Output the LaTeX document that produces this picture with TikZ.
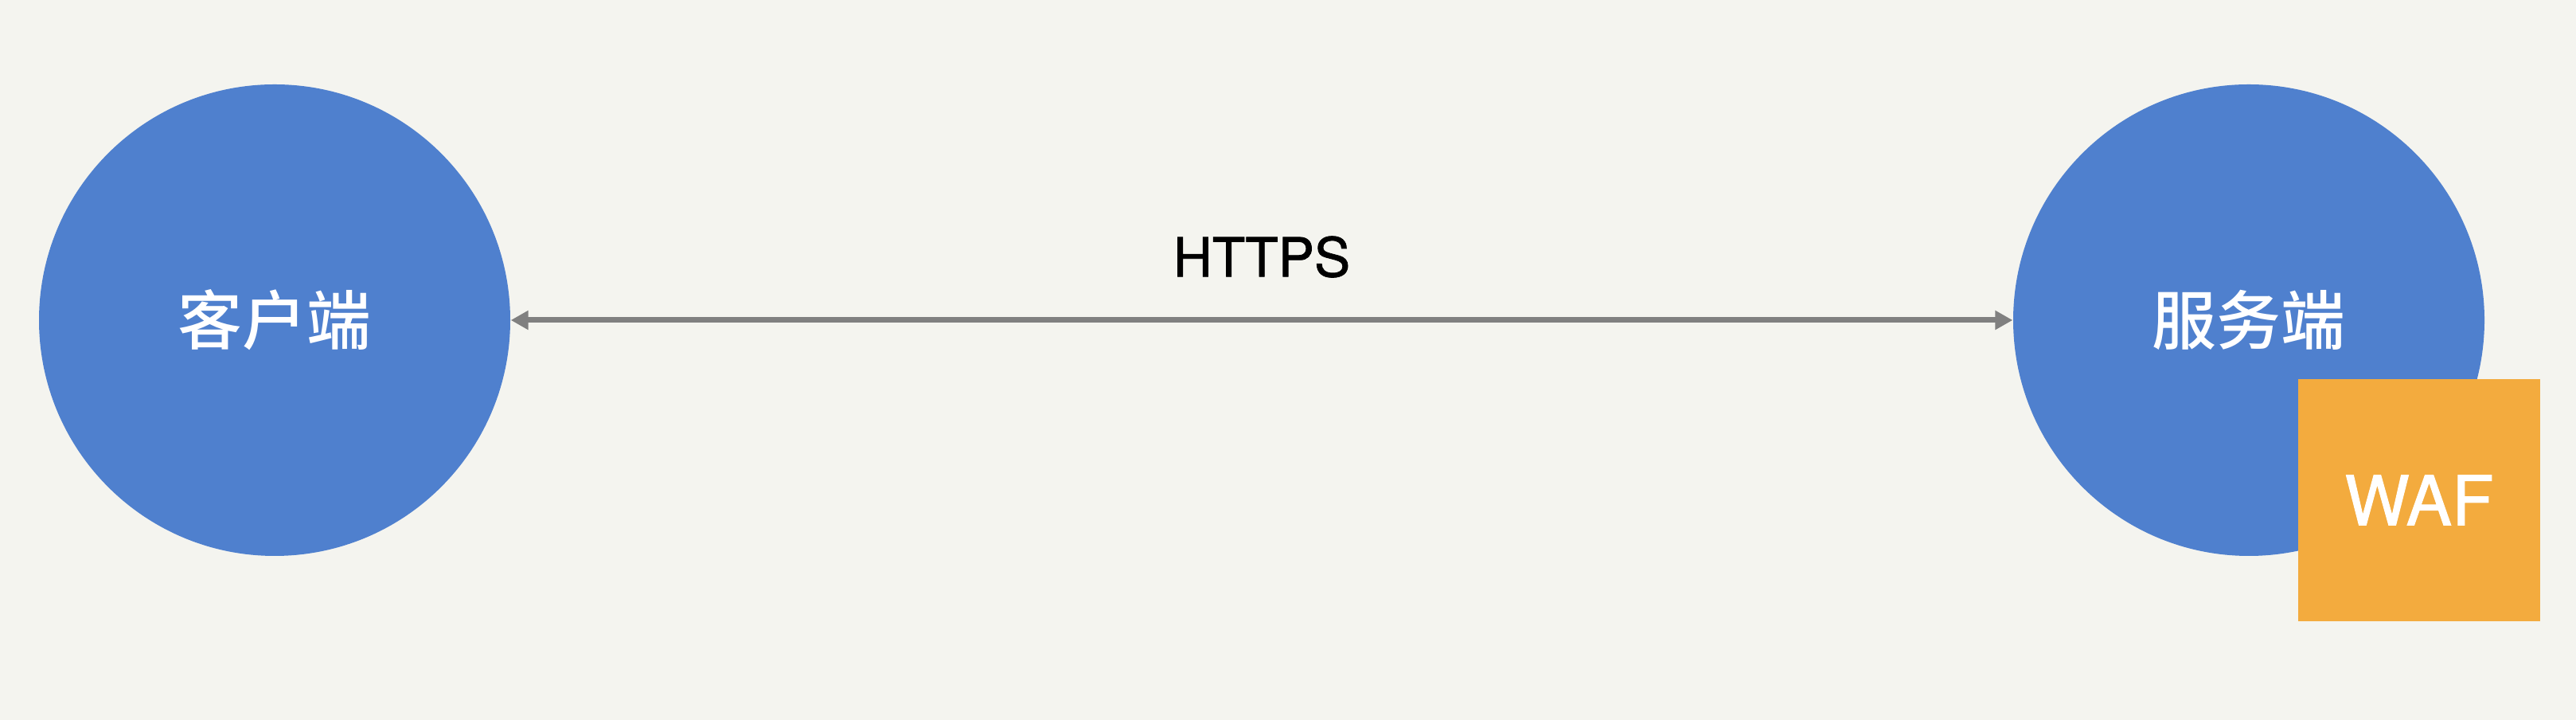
\documentclass[tikz,border=0pt]{standalone}
\usepackage{fontspec}
\setmainfont{TeX Gyre Heros}
\newfontfamily\latinmid{TeX Gyre Heros}[FakeBold=1.2]
\newfontfamily\cjk{Noto Sans CJK SC Medium}
\usetikzlibrary{arrows.meta, positioning}
\usepackage{xcolor}

\definecolor{bgcolor}{HTML}{F4F4EF}
\definecolor{nodeblue}{HTML}{4F80CE}
\definecolor{wafcolor}{HTML}{F3AB3E}
\definecolor{linkgray}{HTML}{808080}

\begin{document}
\begin{tikzpicture}[
    endpoint/.style={circle, fill=nodeblue, minimum size=5.92cm, inner sep=0pt, text=white, font=\cjk\fontsize{23}{23}\selectfont},
    wafbox/.style={rectangle, fill=wafcolor, minimum size=3.04cm, inner sep=0pt, text=white, font=\latinmid\fontsize{24.5}{24.5}\selectfont},
    arrow/.style={{Triangle[length=0.22cm, width=0.23cm]}-{Triangle[length=0.22cm, width=0.23cm]}, line width=0.07cm, draw=linkgray}
]

% fundo
\fill[bgcolor] (0,0) rectangle (32.36,9.04);
\useasboundingbox (0,0) rectangle (32.36,9.04);

% cliente e servidor
\node[endpoint] (client) at (3.45,5.02) {客户端};
\node[endpoint] (server) at (28.25,5.02) {服务端};
\node[wafbox] (waf) at (30.39,2.76) {WAF};

% ligacao
\draw[arrow] (client) -- node[midway, above=0.5cm, inner sep=0pt, font=\latinmid\fontsize{19.3}{19.3}\selectfont] (link) {HTTPS} (server);

\end{tikzpicture}
\end{document}
